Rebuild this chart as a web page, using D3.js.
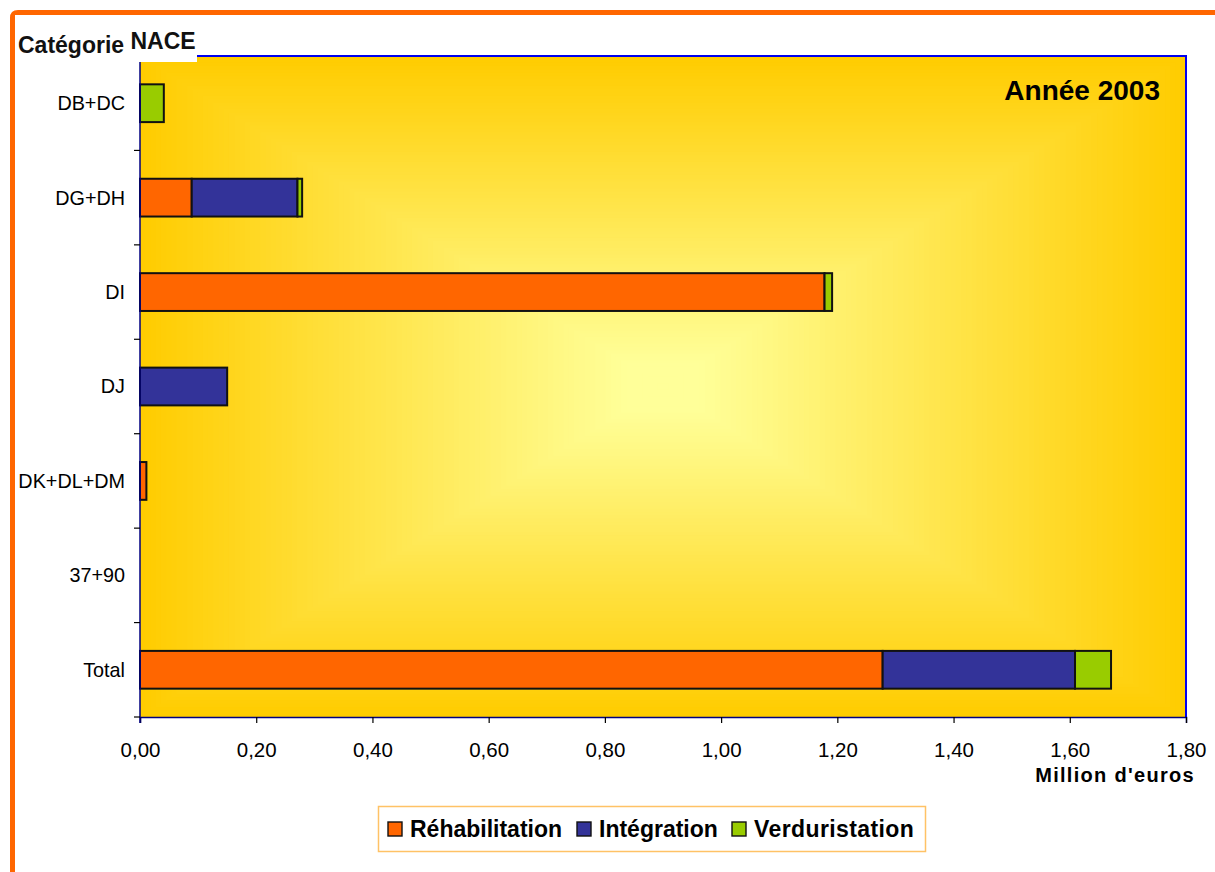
<!DOCTYPE html>
<html>
<head>
<meta charset="utf-8">
<script src="https://cdn.jsdelivr.net/npm/d3@7"></script>
<style>
  html, body { margin: 0; padding: 0; background: #fff; }
  svg { display: block; font-family: "Liberation Sans", Arial, sans-serif; }
</style>
</head>
<body>
<svg id="chart" width="1215" height="872"></svg>
<script>
// NACE categories and amounts (million euros), year 2003
const categories = ["DB+DC", "DG+DH", "DI", "DJ", "DK+DL+DM", "37+90", "Total"];
const seriesNames = ["Réhabilitation", "Intégration", "Verduristation"];
const rehabilitation = [0, 0.089, 1.178, 0, 0.011, 0, 1.278];
const integration    = [0, 0.182, 0, 0.150, 0, 0, 0.331];
const verduristation = [0.041, 0.008, 0.013, 0, 0, 0, 0.062];
const xTicks = [0, 0.2, 0.4, 0.6, 0.8, 1.0, 1.2, 1.4, 1.6, 1.8];
const colors = ["#FF6600", "#333399", "#99CC00"];

const FONT = "'Liberation Sans', Arial, sans-serif";
const svg = d3.select("#chart");
const plot = { left: 140, right: 1186, top: 56, bottom: 717 };

const x = d3.scaleLinear().domain([0, 1.8]).range([plot.left, plot.right]);
const y = d3.scaleBand().domain(categories).range([plot.top, plot.bottom]).paddingInner(0.6).paddingOuter(0.3);
const yGrid = d3.scaleBand().domain(categories).range([plot.top, plot.bottom]);

// Outer orange frame (top and left strokes)
svg.append("path")
  .attr("d", "M12.5,872 L12.5,18 Q12.5,12.5 18,12.5 L1215,12.5")
  .attr("fill", "none").attr("stroke", "#FF6600").attr("stroke-width", 5);

// Plot background: rectangular gradient from gold edges to pale yellow centre
const W = plot.right - plot.left, H = plot.bottom - plot.top;
const cx = plot.left + W / 2, cy = plot.top + H / 2;
const steps = 100;
const shade = d3.interpolateRgb("#FFCC00", "#FFFF99");
const bg = svg.append("g");
for (let i = 0; i < steps; i++) {
  const t = i / steps;
  const w = W * (1 - t), h = H * (1 - t);
  bg.append("rect")
    .attr("x", cx - w / 2).attr("y", cy - h / 2)
    .attr("width", w).attr("height", h)
    .attr("fill", shade(Math.min(1, t * 1.08)));
}

// Plot border: blue top and right
svg.append("path")
  .attr("d", `M${plot.left},${plot.top} L${plot.right},${plot.top} L${plot.right},${plot.bottom}`)
  .attr("fill", "none").attr("stroke", "#0000EE").attr("stroke-width", 2);

// Stacked bars
const rows = categories.map((c, i) => ({
  cat: c, "Réhabilitation": rehabilitation[i], "Intégration": integration[i], "Verduristation": verduristation[i]
}));
const stacked = d3.stack().keys(seriesNames)(rows);
stacked.forEach((layer, k) => {
  svg.append("g").selectAll("rect")
    .data(layer.filter(d => d[1] - d[0] > 0))
    .join("rect")
    .attr("x", d => x(d[0]))
    .attr("y", d => y(d.data.cat))
    .attr("width", d => x(d[1]) - x(d[0]))
    .attr("height", y.bandwidth())
    .attr("fill", colors[k])
    .attr("stroke", "#111")
    .attr("stroke-width", 2);
});

// X axis
const xAxis = svg.append("g").attr("transform", `translate(0,${plot.bottom})`)
  .call(d3.axisBottom(x).tickValues(xTicks).tickSize(6).tickPadding(19)
    .tickFormat(d => d3.format(".2f")(d).replace(".", ",")));
xAxis.select(".domain").attr("stroke", "#000080").attr("stroke-width", 1.5);
xAxis.selectAll(".tick line").attr("stroke", "#000").attr("stroke-width", 1.2);
xAxis.selectAll("text").attr("font-size", 20.5).attr("fill", "#000").attr("font-family", FONT);

// Y axis: ticks between categories
const yAxisG = svg.append("g");
yAxisG.append("line")
  .attr("x1", plot.left).attr("x2", plot.left)
  .attr("y1", plot.top).attr("y2", plot.bottom + 6)
  .attr("stroke", "#000080").attr("stroke-width", 1.5);
yAxisG.selectAll("line.tk")
  .data(categories)
  .join("line").attr("class", "tk")
  .attr("x1", plot.left - 6).attr("x2", plot.left)
  .attr("y1", d => yGrid(d) + yGrid.bandwidth())
  .attr("y2", d => yGrid(d) + yGrid.bandwidth())
  .attr("stroke", "#000").attr("stroke-width", 1.2);
yAxisG.selectAll("text")
  .data(categories)
  .join("text")
  .attr("x", 125)
  .attr("y", d => yGrid(d) + yGrid.bandwidth() / 2)
  .attr("dy", "0.35em")
  .attr("text-anchor", "end")
  .attr("font-size", 19.8)
  .attr("fill", "#000")
  .text(d => d);

// Axis title box (covers top-left corner of the plot)
svg.append("rect").attr("x", 15).attr("y", 15).attr("width", 182).attr("height", 47).attr("fill", "#fff");
const axisTitle = svg.append("text").attr("x", 18).attr("y", 53)
  .attr("font-size", 23).attr("font-weight", "bold").attr("fill", "#111");
axisTitle.append("tspan").text("Catégorie ");
axisTitle.append("tspan").attr("dy", -4).text("NACE");

// Year label
svg.append("text").attr("x", 1160).attr("y", 100)
  .attr("text-anchor", "end").attr("font-size", 28).attr("font-weight", "bold").attr("fill", "#000")
  .text("Année 2003");

// X axis title
svg.append("text").attr("x", 1195).attr("y", 782)
  .attr("text-anchor", "end").attr("font-size", 20).attr("font-weight", "bold").attr("fill", "#000")
  .attr("letter-spacing", 1.3)
  .text("Million d'euros");

// Legend
const legend = svg.append("g");
legend.append("rect").attr("x", 378.5).attr("y", 806.5).attr("width", 547).attr("height", 45)
  .attr("fill", "#fff").attr("stroke", "#FFC266").attr("stroke-width", 1.5);
const legendX = [388, 577, 732];
seriesNames.forEach((name, i) => {
  legend.append("rect").attr("x", legendX[i]).attr("y", 822).attr("width", 14).attr("height", 14)
    .attr("fill", colors[i]).attr("stroke", "#111").attr("stroke-width", 1.4);
  legend.append("text").attr("x", legendX[i] + 22).attr("y", 837)
    .attr("font-size", 23).attr("font-weight", "bold").attr("fill", "#000")
    .attr("letter-spacing", i === 2 ? 0.4 : 0)
    .text(name);
});
</script>
</body>
</html>
